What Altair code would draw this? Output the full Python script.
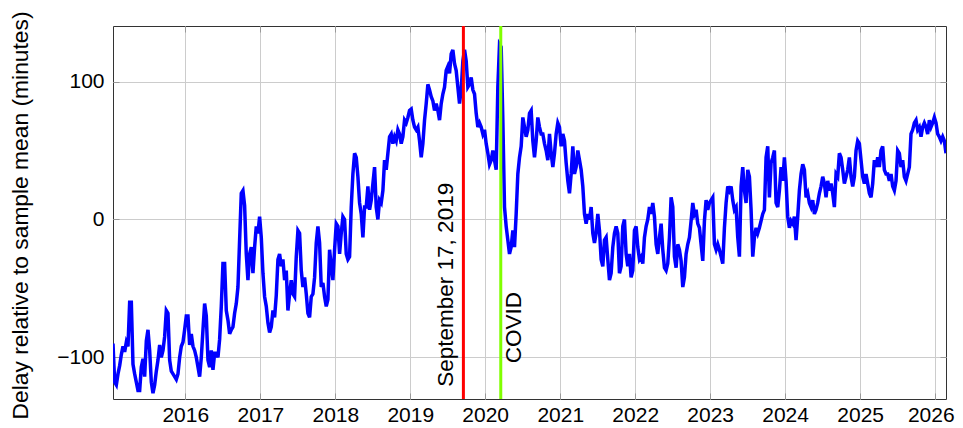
import altair as alt
import pandas as pd

# ---- data ----
first_date = "2015-01-14"
last_date = "2026-02-23"

delay_minutes = [
    # 2015.04 - 2016.77
    -90, -118, -120, -112, -106, -98, -92, -96, -89, -92,
    -60, -60, -105, -112, -118, -124, -124, -107, -101, -114,
    -88, -80, -95, -118, -126, -120, -110, -102, -91, -100,
    -95, -85, -66, -68, -102, -110, -112, -114, -116, -112,
    -100, -92, -89, -80, -70, -70, -91, -83, -92, -95,
    -100, -107, -114, -100, -80, -61, -70, -102, -107, -95,
    -109, -97, -97, -100, -87, -63, -32, -32, -66, -73,
    -83, -80, -78, -68, -61, -49, -15, 19, 21,
    # 2016.79 - 2018.57
    10, -25, -44, -25, -20, -39, -20, -5, -10, 2,
    -13, -39, -56, -63, -75, -82, -78, -66, -71, -55,
    -29, -25, -34, -29, -44, -37, -66, -54, -44, -54,
    -56, -27, -8, -10, -37, -49, -42, -54, -68, -71,
    -56, -54, -42, -17, -5, -17, -49, -46, -56, -63,
    -58, -22, -34, -44, -22, -3, -5, -25, -10, 2,
    0, -25, -29, -27, 9, 33, 48, 45, 31, 12,
    4, -13, 9, 9, 24, 7, 14, 26, 38, 9,
    0,
    # 2018.59 - 2020.37
    14, 12, 21, 43, 36, 48, 60, 62, 55, 60,
    57, 65, 62, 55, 60, 72, 70, 74, 79, 80,
    72, 67, 65, 67, 57, 45, 55, 72, 84, 98,
    94, 89, 86, 79, 84, 79, 72, 84, 91, 96,
    108, 111, 106, 120, 123, 113, 108, 96, 84, 94,
    115, 123, 115, 96, 98, 103, 94, 91, 77, 67,
    70, 67, 62, 65, 55, 48, 40, 43, 50, 43,
    36, 96, 127, 125, 72, 9, -5, -15, -25, -20,
    -8,
    # 2020.39 - 2022.21
    -20, 4, 33, 45, 53, 74, 67, 60, 65, 77,
    79, 57, 45, 57, 74, 67, 62, 62, 55, 50,
    43, 62, 48, 38, 48, 62, 70, 67, 53, 62,
    57, 41, 28, 19, 33, 53, 33, 38, 50, 43,
    36, 24, 4, -3, 4, 0, 9, -10, -17, -10,
    4, -8, -29, -34, -15, -13, -29, -44, -39, -20,
    -10, -5, -10, -39, -34, -5, 0, -25, -34, -25,
    -42, -37, -8, -5, -20, -29, -27, -32, -13, -5,
    0, 9, 4,
    # 2022.24 - 2024.13
    12, 2, -18, -25, -13, -3, -22, -35, -37, -32,
    -13, 16, 9, -27, -35, -18, -22, -30, -49, -42,
    -25, -18, -13, -1, 12, 4, 7, -3, -6, -18,
    -30, -1, 14, 7, 12, 14, 16, -18, -22, -18,
    -22, -27, -32, -6, 12, 24, 21, 24, 14, 7,
    9, -13, -27, 24, 38, 21, 12, 36, 31, 7,
    -27, -13, -6, -10, -6, -1, 4, 7, 45, 53,
    16, 41, 45, 50, 12, 9, 21, 38, 28, 45,
    28, 2, -6, -1, -3, 2,
    # 2024.15 - 2026.15
    -15, 2, 21, 33, 40, 36, 16, 19, 12, 9,
    14, 4, 7, 12, 19, 24, 31, 26, 16, 28,
    21, 26, 19, 9, 33, 31, 48, 45, 36, 26,
    31, 36, 45, 31, 24, 31, 50, 57, 55, 43,
    31, 26, 33, 26, 19, 16, 26, 43, 38, 45,
    38, 50, 53, 36, 33, 33, 28, 33, 24, 21,
    28, 50, 48, 38, 43, 31, 28, 33, 38, 62,
    65, 70, 72, 65, 67, 60, 67, 70, 67, 62,
    72, 67, 70, 74, 70, 62, 60, 57, 60, 57,
    48,
]

event_dates = ["2019-09-17", "2020-03-17"]
event_labels = ["September 17, 2019", "COVID"]
event_colors = ["#ff0000", "#80ff00"]
label_start = [-121.3, -104.3]

year_ticks = list(range(2016, 2027))
y_ticks = [-100, 0, 100]
y_domain = [-130.2, 140.3]

FONT = "Liberation Sans"
T = 6  # inward tick length

dates = pd.date_range(first_date, last_date, periods=len(delay_minutes))
df = pd.DataFrame({"date": dates, "delay": delay_minutes})
events = pd.DataFrame({"date": pd.to_datetime(event_dates), "label": event_labels,
                       "color": event_colors, "ystart": label_start})

xscale = alt.Scale(nice=False, padding=0)
yscale = alt.Scale(domain=y_domain, nice=False, zero=False)
year_values = [alt.DateTime(year=y) for y in year_ticks]

line = alt.Chart(df).mark_line(color="#0000ff", strokeWidth=3.5, clip=True,
                               strokeJoin="miter").encode(
    x=alt.X("date:T", scale=xscale,
            axis=alt.Axis(orient="bottom", values=year_values, format="%Y", title=None,
                          grid=True, gridColor="#cccccc", gridWidth=1,
                          domain=False, ticks=True, tickSize=T, offset=-T,
                          tickColor="#999999", tickWidth=1,
                          labelFlush=15, labelFlushOffset=19,
                          labelPadding=5, labelFont=FONT, labelFontSize=21,
                          labelColor="#000000")),
    y=alt.Y("delay:Q", scale=yscale,
            axis=alt.Axis(orient="left", values=y_ticks, format="d",
                          title="Delay relative to sample mean (minutes)",
                          titleFont=FONT, titleFontSize=22.8, titleFontWeight="normal",
                          titleColor="#000000", titleX=20 - 113 - T, titleY=189,
                          titleBaseline="middle",
                          grid=True, gridColor="#cccccc", gridWidth=1,
                          domain=False, ticks=True, tickSize=T, offset=-T,
                          tickColor="#999999", tickWidth=1,
                          labelPadding=9, labelFont=FONT, labelFontSize=21,
                          labelColor="#000000")),
)

frame = alt.Chart(df).mark_line(strokeOpacity=0).encode(
    x=alt.X("date:T", scale=xscale,
            axis=alt.Axis(orient="top", values=year_values, labels=False, title=None,
                          grid=False, domain=False, tickSize=T, offset=-T,
                          tickColor="#999999", tickWidth=1)),
    y=alt.Y("delay:Q", scale=yscale,
            axis=alt.Axis(orient="right", values=y_ticks, labels=False, title=None,
                          grid=False, domain=False, tickSize=T, offset=-T,
                          tickColor="#999999", tickWidth=1)),
)

rules = alt.Chart(events).mark_rule(strokeWidth=3).encode(
    x=alt.X("date:T", axis=None),
    color=alt.Color("color:N", scale=None),
)

sept = alt.Chart(events.iloc[[0]]).mark_text(
    angle=270, align="left", baseline="bottom", dy=-5,
    font=FONT, fontSize=22.5, color="#000000",
).encode(
    x=alt.X("date:T", axis=None),
    y=alt.Y("ystart:Q", axis=None),
    text="label:N",
)

covid = alt.Chart(events.iloc[[1]]).mark_text(
    angle=270, align="left", baseline="top", dy=2,
    font=FONT, fontSize=22.5, color="#000000",
).encode(
    x=alt.X("date:T", axis=None),
    y=alt.Y("ystart:Q", axis=None),
    text="label:N",
)

chart = alt.layer(line, frame, rules, sept, covid).resolve_axis(
    x="independent", y="independent"
).properties(
    width=833, height=373,
    autosize="none",
    padding={"left": 105, "top": 18, "right": 9, "bottom": 26},
).configure_view(stroke="#333333", strokeWidth=1)

chart.save("out.html", embed_options={"renderer": "svg", "actions": False})
